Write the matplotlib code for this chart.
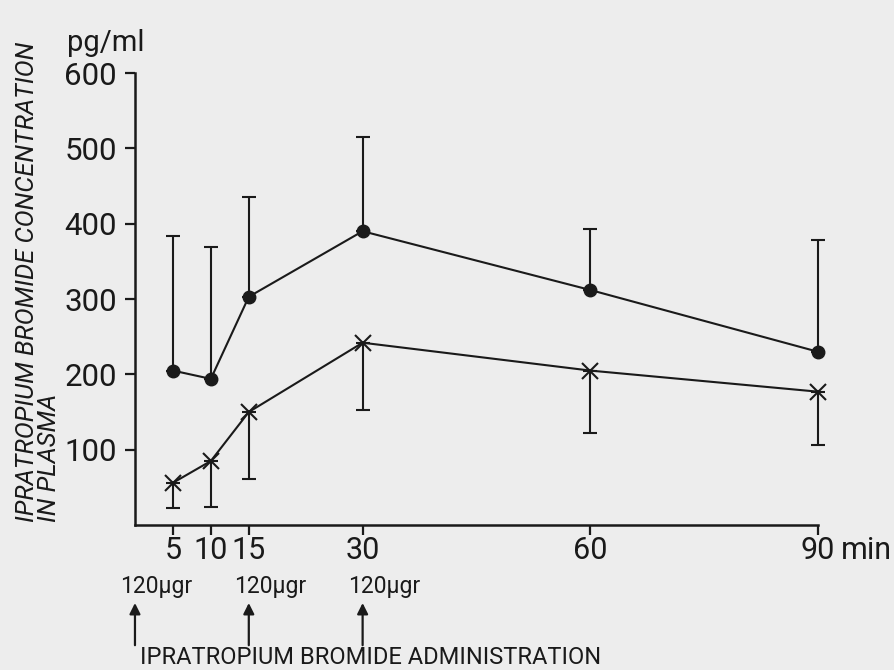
import matplotlib.pyplot as plt
import matplotlib.transforms as mtransforms

# Plasma concentrations (pg/ml)
times = [5, 10, 15, 30, 60, 90]
patients = [205, 194, 303, 390, 312, 230]
patients_upper = [384, 369, 436, 515, 393, 378]
controls = [56, 85, 150, 242, 205, 177]
controls_lower = [23, 24, 61, 153, 122, 106]

xtick_labels = ['5', '10', '15', '30', '60', '90']
yticks = [100, 200, 300, 400, 500, 600]

# Drug doses
dose_times = [0, 15, 30]
dose_labels = ['120μgr', '120μgr', '120μgr']

plt.rcParams['font.family'] = ['Roboto', 'DejaVu Sans']
bg = '#ededed'
ink = '#1a1a1a'

fig = plt.figure(figsize=(8.95, 6.7), dpi=100, facecolor=bg)
ax = fig.add_axes([0.1508, 0.2164, 0.7631, 0.6746], facecolor=bg)

# upper series: mean + upward error bar
p_err = [[0] * len(patients), [u - m for u, m in zip(patients_upper, patients)]]
ax.errorbar(times, patients, yerr=p_err, fmt='-o', color=ink,
            lw=1.5, ms=9, elinewidth=1.5, capsize=5, capthick=1.5)

# lower series: mean + downward error bar
c_err = [[m - l for m, l in zip(controls, controls_lower)], [0] * len(controls)]
ax.errorbar(times, controls, yerr=c_err, fmt='-x', color=ink,
            lw=1.5, ms=11, mew=1.5, elinewidth=1.5, capsize=5, capthick=1.5)

for art in ax.get_children():
    art.set_clip_on(False)

ax.set_xlim(0, 90)
ax.set_ylim(0, 600)
ax.set_xticks(times)
ax.set_xticklabels(xtick_labels)
ax.set_yticks(yticks)
for s in ['top', 'right']:
    ax.spines[s].set_visible(False)
for s in ['left', 'bottom']:
    ax.spines[s].set_linewidth(1.8)
    ax.spines[s].set_color(ink)
ax.tick_params(axis='both', direction='out', length=7, width=1.6,
               colors=ink)
ax.tick_params(axis='x', pad=1, labelsize=22)
ax.tick_params(axis='y', pad=6, labelsize=22.5)

# "min" next to the 90 tick label
off = mtransforms.ScaledTranslation(0.23, -8 / 72, fig.dpi_scale_trans)
ax.text(1.0, 0.0, 'min', transform=ax.transAxes + off, fontsize=22,
        ha='left', va='top', color=ink)
ax.text(-0.1, 1.035, 'pg/ml', transform=ax.transAxes, fontsize=21,
        ha='left', va='bottom', color=ink)

# y label, two lines, slanted
fig.text(27 / 895, 1 - 522 / 670, 'IPRATROPIUM BROMIDE CONCENTRATION',
         rotation=90, ha='center', va='bottom', fontsize=18.4,
         style='italic', color=ink)
fig.text(49 / 895, 1 - 522 / 670, 'IN PLASMA',
         rotation=90, ha='center', va='bottom', fontsize=18.4,
         style='italic', color=ink)

# dose arrows
blend = mtransforms.blended_transform_factory(ax.transData, fig.transFigure)
for t, lab in zip(dose_times, dose_labels):
    ax.annotate('', xy=(t, 0.10), xytext=(t, 0.037), xycoords=blend,
                textcoords=blend,
                arrowprops=dict(arrowstyle='-|>', color=ink, lw=1.6,
                                mutation_scale=16, shrinkA=0, shrinkB=0),
                annotation_clip=False)
    ax.text(t - 1.9, 0.125, lab, transform=blend, fontsize=16.5,
            ha='left', va='center', color=ink, clip_on=False)

fig.text(140 / 895, 0.001, 'IPRATROPIUM BROMIDE ADMINISTRATION',
         fontsize=17, ha='left', va='bottom', color=ink)

fig.savefig('out.png', dpi=100, facecolor=bg)
